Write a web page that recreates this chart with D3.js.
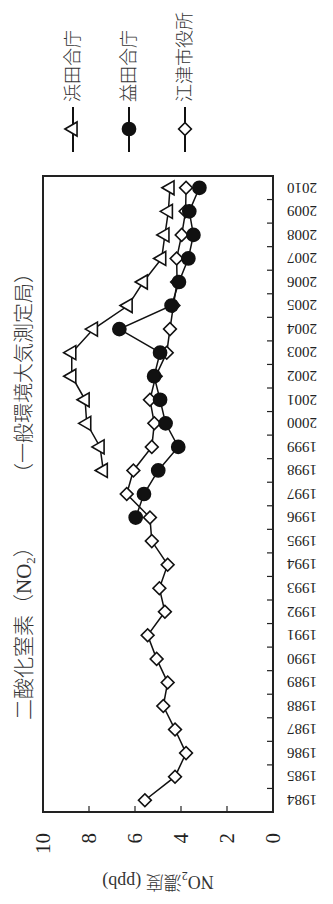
<!DOCTYPE html>
<html>
<head>
<meta charset="utf-8">
<script src="https://cdn.jsdelivr.net/npm/d3@7"></script>
<style>
  body { margin: 0; background: #fff; }
  svg { display: block; }
  text { font-family: 'Liberation Serif', 'Noto Sans CJK JP', serif; fill: #222; }
  .cjk { font-weight: 300; fill: #333; }
</style>
</head>
<body>
<svg id="chart"></svg>
<script>
var years = [1984, 1985, 1986, 1987, 1988, 1989, 1990, 1991, 1992, 1993, 1994, 1995, 1996,
    1997, 1998, 1999, 2000, 2001, 2002, 2003, 2004, 2005, 2006, 2007, 2008, 2009, 2010];

// 浜田合庁 (from 1998)
var hamada = [null, null, null, null, null, null, null, null, null, null, null, null, null,
    null, 7.38, 7.52, 8.10, 8.17, 8.75, 8.75, 7.81, 6.30, 5.64, 4.84, 4.70, 4.55, 4.48];
// 益田合庁 (from 1996)
var masuda = [null, null, null, null, null, null, null, null, null, null, null, null, 5.97,
    5.61, 4.99, 4.12, 4.67, 4.91, 5.17, 4.91, 6.68, 4.41, 4.09, 3.68, 3.46, 3.64, 3.20];
// 江津市役所
var gotsu = [5.57, 4.26, 3.78, 4.26, 4.77, 4.58, 5.06, 5.45, 4.70, 4.94, 4.58, 5.27, 5.35,
    6.36, 6.07, 5.27, 5.16, 5.35, 5.10, 4.62, 4.48, 4.33, 4.17, 4.19, 3.97, 3.80, 3.78];

var valueTicks = [0, 2, 4, 6, 8, 10];
var seriesNames = ['浜田合庁', '益田合庁', '江津市役所'];

// the chart is laid out landscape, then turned a quarter turn to the left
var PAGE = { W: 333, H: 904 };
var W = PAGE.H, H = PAGE.W;
var MARGIN = { LEFT: 92, RIGHT: 176, TOP: 43, BOTTOM: 60 };

var svg = d3.select('#chart')
    .attr('width', PAGE.W)
    .attr('height', PAGE.H);

var g = svg.append('g')
    .attr('transform', 'translate(0,' + PAGE.H + ') rotate(-90)');

var x = d3.scaleBand()
    .domain(years)
    .range([MARGIN.LEFT, W - MARGIN.RIGHT]);

var y = d3.scaleLinear()
    .domain([0, 10])
    .range([H - MARGIN.BOTTOM, MARGIN.TOP]);

var x0 = MARGIN.LEFT, x1 = W - MARGIN.RIGHT, y0 = H - MARGIN.BOTTOM, y1 = MARGIN.TOP;

// ticks (inward)
var boundaries = years.slice(1).map(function (yr) { return x(yr); });
g.selectAll('.xtick').data(boundaries).enter()
    .append('line')
    .attr('class', 'xtick')
    .attr('x1', function (d) { return d; })
    .attr('x2', function (d) { return d; })
    .attr('y1', y0)
    .attr('y2', y0 - 6)
    .attr('stroke', '#222')
    .attr('stroke-width', 1.2);

g.selectAll('.ytick').data(valueTicks.slice(1, -1)).enter()
    .append('line')
    .attr('class', 'ytick')
    .attr('x1', x0)
    .attr('x2', x0 + 6)
    .attr('y1', function (d) { return y(d); })
    .attr('y2', function (d) { return y(d); })
    .attr('stroke', '#222')
    .attr('stroke-width', 1.2);

// frame
g.append('rect')
    .attr('x', x0)
    .attr('y', y1)
    .attr('width', x1 - x0)
    .attr('height', y0 - y1)
    .attr('fill', 'none')
    .attr('stroke', '#222')
    .attr('stroke-width', 2);

// year labels
g.selectAll('.xlabel').data(years).enter()
    .append('text')
    .attr('class', 'xlabel')
    .attr('transform', function (d) {
        return 'translate(' + (x(d) + x.bandwidth() / 2) + ',' + (y0 + 14) + ') rotate(-90)';
    })
    .attr('text-anchor', 'end')
    .attr('dy', '0.35em')
    .style('font-size', '15px')
    .text(function (d) { return d; });

// value labels
g.selectAll('.ylabel').data(valueTicks).enter()
    .append('text')
    .attr('class', 'ylabel')
    .attr('x', x0 - 21)
    .attr('y', function (d) { return y(d); })
    .attr('dy', '0.35em')
    .attr('text-anchor', 'end')
    .style('font-size', '21px')
    .text(function (d) { return d; });

// axis title
var yTitle = g.append('text')
    .attr('class', 'cjk')
    .attr('transform', 'translate(22,' + (y0 + y1) / 2 + ') rotate(-90)')
    .attr('text-anchor', 'middle')
    .attr('dy', '0.35em')
    .style('font-size', '18px');
yTitle.append('tspan').text('NO');
yTitle.append('tspan').attr('dy', 4).style('font-size', '12px').text('2');
yTitle.append('tspan').attr('dy', -4).text('濃度 (ppb)');

// chart title
var t1 = g.append('text')
    .attr('class', 'cjk')
    .attr('x', 184)
    .attr('y', 24)
    .attr('dy', '0.35em')
    .style('font-size', '21px');
t1.append('tspan').text('二酸化窒素（NO');
t1.append('tspan').attr('dy', 4).style('font-size', '13px').text('2');
t1.append('tspan').attr('dy', -4).text('）');

g.append('text')
    .attr('class', 'cjk')
    .attr('x', 641)
    .attr('y', 24)
    .attr('dy', '0.35em')
    .attr('text-anchor', 'end')
    .style('font-size', '20px')
    .text('（一般環境大気測定局）');

// series
function points(values) {
    return years.map(function (yr, i) { return { year: yr, v: values[i] }; })
        .filter(function (d) { return d.v != null; });
}

var line = d3.line()
    .x(function (d) { return x(d.year) + x.bandwidth() / 2; })
    .y(function (d) { return y(d.v); });

var symbols = [
    { path: d3.symbol().type(d3.symbolTriangle).size(85)(), rot: 0, fill: '#fff' },
    { path: d3.symbol().type(d3.symbolCircle).size(135)(), rot: 0, fill: '#111' },
    { path: d3.symbol().type(d3.symbolSquare).size(82)(), rot: 45, fill: '#fff' }
];

var series = [hamada, masuda, gotsu];
// draw order: diamonds under circles, triangles on top
[2, 1, 0].forEach(function (k) {
    var pts = points(series[k]);
    g.append('path')
        .datum(pts)
        .attr('d', line)
        .attr('fill', 'none')
        .attr('stroke', '#111')
        .attr('stroke-width', 1.5);
    g.selectAll('.mark' + k).data(pts).enter()
        .append('path')
        .attr('class', 'mark' + k)
        .attr('d', symbols[k].path)
        .attr('transform', function (d) {
            return 'translate(' + (x(d.year) + x.bandwidth() / 2) + ',' + y(d.v) + ') rotate(' + symbols[k].rot + ')';
        })
        .attr('fill', symbols[k].fill)
        .attr('stroke', '#111')
        .attr('stroke-width', 1.6);
});

// legend
var legend = g.selectAll('.legend').data(seriesNames).enter()
    .append('g')
    .attr('class', 'legend')
    .attr('transform', function (d, i) { return 'translate(752,' + (73 + i * 56) + ')'; });

legend.append('line')
    .attr('x1', 0)
    .attr('x2', 45)
    .attr('stroke', '#111')
    .attr('stroke-width', 2);

legend.append('path')
    .attr('d', function (d, i) { return symbols[i].path; })
    .attr('transform', function (d, i) { return 'translate(23,0) rotate(' + symbols[i].rot + ')'; })
    .attr('fill', function (d, i) { return symbols[i].fill; })
    .attr('stroke', '#111')
    .attr('stroke-width', 1.6);

legend.append('text')
    .attr('class', 'cjk')
    .attr('x', 50)
    .attr('dy', '0.35em')
    .style('font-size', '18px')
    .text(function (d) { return d; });
</script>
</body>
</html>
